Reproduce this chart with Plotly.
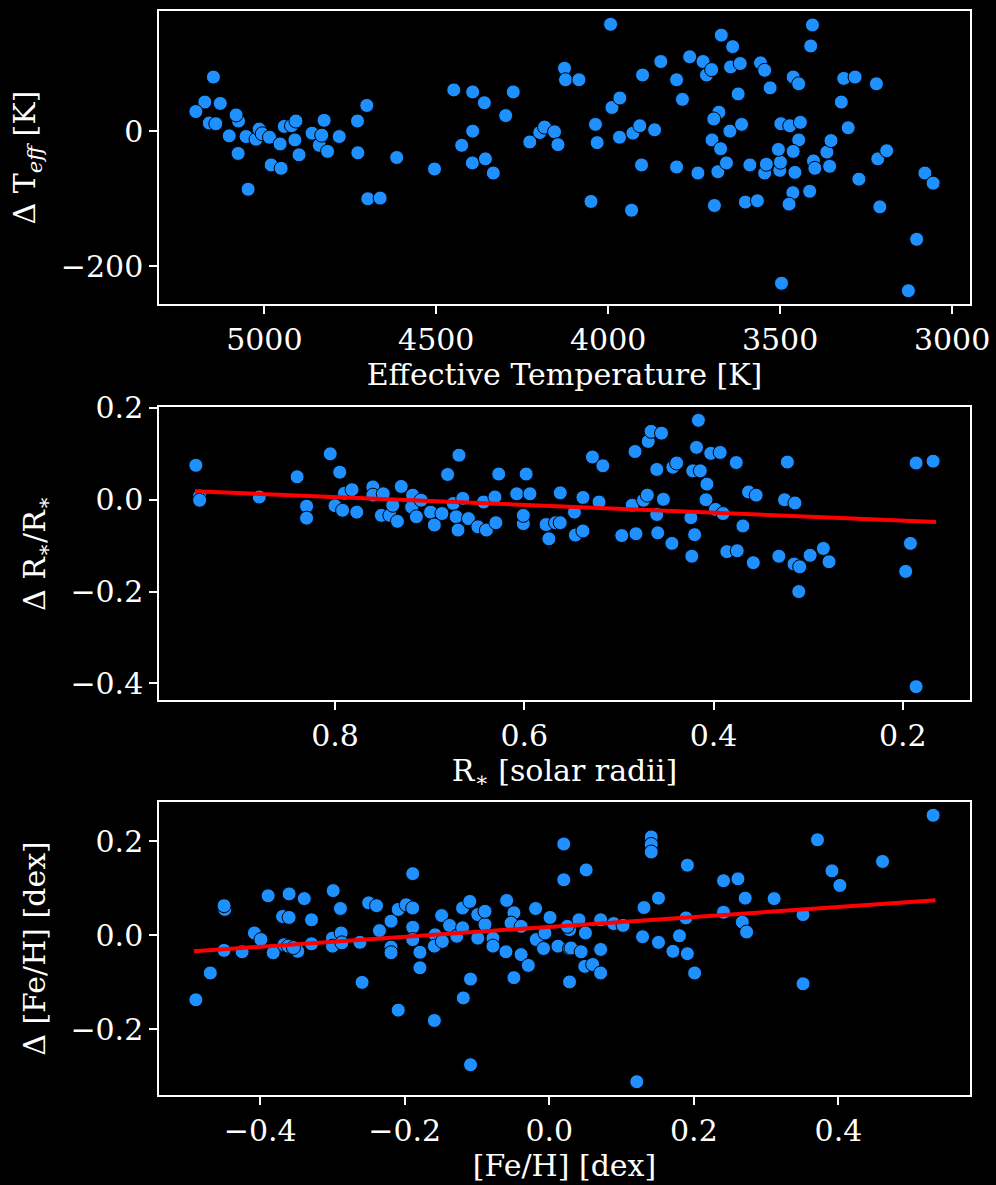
import plotly.graph_objects as go
from plotly.subplots import make_subplots

# ---------------- Panel 1: Effective temperature ----------------
teff = [5148, 5173, 5128, 5199, 5160, 5141, 5075, 5082, 5102, 5076, 5053, 5024, 5015, 5006, 4985,
        5047, 4980, 4951, 4954, 4942, 4921, 4908, 4911, 4899, 4861, 4840, 4833, 4826, 4816, 4782,
        4728, 4729, 4702, 4699, 4663, 4615, 4505, 4449, 4394, 4360, 4394, 4426, 4395, 4357, 4334,
        4298, 4276, 4228, 4199, 4185, 4156, 4146, 4127, 4124, 4085, 3993, 4037, 4032, 4050, 3932,
        3989, 3966, 3967, 3928, 3908, 3865, 3903, 3900, 3847, 3801, 3784, 3801, 3739, 3763, 3724,
        3714, 3699, 3671, 3638, 3644, 3616, 3622, 3678, 3693, 3698, 3673, 3646, 3612, 3681, 3656,
        3691, 3601, 3566, 3588, 3557, 3545, 3529, 3545, 3540, 3501, 3499, 3498, 3472, 3441, 3446,
        3505, 3462, 3457, 3463, 3474, 3414, 3462, 3446, 3411, 3406, 3403, 3399, 3356, 3364, 3352,
        3322, 3315, 3282, 3302, 3220, 3216, 3190, 3271, 3210, 3079, 3055, 3103, 3496, 3127]
d_teff = [80, 43, 41, 29, 12, 11, 15, 24, -7, -33, -8, -12, 3, -4, -9,
          -86, -50, -55, -19, 7, 8, 15, -13, -35, -3, -21, -6, 16, -30, -8,
          -32, 15, 38, -100, -99, -39, -56, 61, 58, 42, 0, -21, -47, -41, -62,
          23, 58, -16, -2, 6, -1, -20, 93, 76, 76, 158, 10, -17, -104, -117,
          35, 49, -9, -3, 8, 2, -50, 83, 103, 76, 47, -53, -62, 110, 103,
          83, 91, 142, 125, 95, 100, 55, 28, 18, -13, -26, 0, 10, -60, -47,
          -110, -105, -103, -50, 101, 90, 64, -62, -49, -58, -46, 11, 8, 13, -13,
          -27, -30, -61, -91, -108, -89, 80, 70, 126, 157, -44, -55, -52, -31, -14,
          43, 78, 80, 5, 70, -41, -29, -71, -112, -62, -77, -160, -225, -236]

# ---------------- Panel 2: Stellar radius ----------------
radius = [0.947, 0.943, 0.943, 0.880, 0.840, 0.830, 0.830, 0.805, 0.795, 0.800, 0.790, 0.782, 0.777,
          0.792, 0.760, 0.760, 0.749, 0.730, 0.751, 0.742, 0.739, 0.734, 0.718, 0.719, 0.714, 0.709,
          0.699, 0.695, 0.687, 0.681, 0.669, 0.675, 0.672, 0.670, 0.665, 0.659, 0.649, 0.640, 0.643,
          0.630, 0.631, 0.627, 0.608, 0.601, 0.601, 0.598, 0.594, 0.577, 0.567, 0.574, 0.562,
          0.562, 0.547, 0.546, 0.538, 0.538, 0.521, 0.528, 0.517, 0.497, 0.482, 0.486, 0.474, 0.470,
          0.483, 0.469, 0.466, 0.455, 0.460, 0.453, 0.460, 0.459, 0.444, 0.443, 0.439, 0.423, 0.424,
          0.420, 0.422, 0.414, 0.407, 0.418, 0.416, 0.403, 0.393, 0.408, 0.398, 0.390, 0.386, 0.375,
          0.376, 0.369, 0.363, 0.355, 0.358, 0.331, 0.325, 0.314, 0.322, 0.315, 0.309, 0.310, 0.298,
          0.284, 0.278, 0.192, 0.197, 0.186, 0.168, 0.186]
d_radius = [0.075, 0.008, -0.001, 0.006, 0.050, -0.014, -0.040, 0.100, 0.060, -0.013, 0.014, 0.022, -0.027,
            -0.023, 0.028, 0.010, 0.013, 0.029, -0.034, -0.034, -0.012, -0.047, 0.010, -0.016, -0.037, -0.001,
            -0.027, -0.055, -0.030, 0.055, 0.097, -0.008, -0.037, -0.066, 0.003, -0.041, -0.059, -0.066, -0.005,
            -0.050, 0.006, 0.056, 0.013, -0.052, -0.034, 0.056, 0.013, -0.054, -0.050, -0.085, 0.015,
            -0.050, -0.027, -0.077, -0.068, 0.005, -0.005, 0.093, 0.074, -0.078, -0.074, -0.012, -0.001, 0.010,
            0.105, 0.127, 0.149, 0.145, 0.066, 0.001, -0.032, -0.072, -0.095, 0.071, 0.080, -0.123, -0.039,
            -0.076, 0.063, 0.063, 0.034, 0.114, 0.173, 0.101, 0.103, 0.000, -0.021, -0.030, -0.113, -0.111,
            0.081, -0.057, 0.017, 0.010, -0.137, -0.123, 0.000, -0.007, 0.082, -0.140, -0.146, -0.200, -0.121,
            -0.106, -0.135, -0.095, -0.156, 0.080, 0.084, -0.407]
fit_radius_x = [0.948, 0.165]
fit_radius_y = [0.0185, -0.0483]

# ---------------- Panel 3: Metallicity ----------------
feh = [-0.489, -0.469, -0.449, -0.450, -0.450, -0.425, -0.408, -0.399, -0.389, -0.382, -0.369, -0.360,
       -0.360, -0.339, -0.329, -0.367, -0.361, -0.348, -0.354, -0.329, -0.299, -0.289, -0.300, -0.288,
       -0.300, -0.287, -0.262, -0.259, -0.250, -0.239, -0.235, -0.219, -0.209, -0.198, -0.189, -0.189,
       -0.189, -0.189, -0.219, -0.219, -0.179, -0.179, -0.209, -0.159, -0.158, -0.159, -0.149, -0.148,
       -0.138, -0.128, -0.120, -0.110, -0.120, -0.099, -0.089, -0.089, -0.099, -0.078, -0.078, -0.109,
       -0.119, -0.109, -0.059, -0.049, -0.053, -0.039, -0.060, -0.039, -0.049, -0.029, -0.019, 0.001,
       -0.018, -0.008, -0.006, 0.012, 0.020, 0.020, 0.028, 0.028, 0.028,
       0.051, 0.025, 0.041, 0.050, 0.030, 0.044, 0.049, 0.060, 0.071, 0.071, 0.071, 0.089, 0.102,
       0.131, 0.151, 0.129, 0.151, 0.141, 0.141, 0.141, 0.121, 0.171, 0.180, 0.191, 0.201, 0.189,
       0.191, 0.241, 0.261, 0.271, 0.241, 0.267, 0.273, 0.311, 0.351, 0.351, 0.371, 0.391, 0.402,
       0.461, 0.531]
d_feh = [-0.137, -0.080, 0.055, 0.063, -0.032, -0.035, 0.005, -0.009, 0.084, -0.037, 0.040, 0.088,
         0.038, 0.078, 0.033, -0.020, -0.023, -0.034, -0.026, -0.018, 0.095, 0.057, -0.006, 0.005,
         -0.023, -0.016, -0.015, -0.100, 0.069, 0.063, 0.010, 0.030, 0.055, 0.065, 0.058, 0.131,
         0.017, -0.009, -0.025, -0.037, -0.036, -0.069, -0.159, -0.181, 0.001, -0.023, 0.042, -0.013,
         0.021, -0.002, 0.058, 0.072, 0.016, 0.044, 0.023, 0.051, -0.006, -0.006, -0.023, -0.093,
         -0.133, -0.275, 0.074, 0.048, 0.026, 0.019, -0.035, -0.041, -0.090, -0.064, 0.057, 0.038,
         -0.009, -0.028, 0.005, -0.023, 0.194, 0.118, 0.012, -0.028, -0.099,
         0.139, 0.019, 0.033, 0.005, -0.027, -0.035, -0.066, -0.062, -0.080, -0.030, 0.033, 0.025, 0.021,
         0.059, 0.079, -0.003, -0.015, 0.209, 0.193, 0.177, -0.311, -0.034, -0.001, -0.039, -0.080, 0.037,
         0.149, 0.116, 0.120, 0.079, 0.049, 0.028, 0.007, 0.078, 0.044, -0.103, 0.203, 0.137, 0.106,
         0.157, 0.255]
fit_feh_x = [-0.4916, 0.5343]
fit_feh_y = [-0.034, 0.0743]

# ---------------- Styling ----------------
FONT = "DejaVu Serif"
FS = 30
POINT = "#1E90FF"


def padded(vals, frac=0.05):
    lo, hi = min(vals), max(vals)
    span = hi - lo
    return [lo - frac * span, hi + frac * span]


fig = make_subplots(rows=3, cols=1)

marker = dict(color=POINT, size=14, line=dict(color="black", width=1))

fig.add_trace(go.Scatter(x=teff, y=d_teff, mode="markers", marker=marker, showlegend=False), row=1, col=1)

fig.add_trace(go.Scatter(x=radius, y=d_radius, mode="markers", marker=marker, showlegend=False), row=2, col=1)
fig.add_trace(go.Scatter(x=fit_radius_x, y=fit_radius_y, mode="lines",
                         line=dict(color="red", width=4), showlegend=False), row=2, col=1)

fig.add_trace(go.Scatter(x=feh, y=d_feh, mode="markers", marker=marker, showlegend=False), row=3, col=1)
fig.add_trace(go.Scatter(x=fit_feh_x, y=fit_feh_y, mode="lines",
                         line=dict(color="red", width=4), showlegend=False), row=3, col=1)

axis_common = dict(
    showline=True, mirror=True, linecolor="white", linewidth=1.5,
    ticks="outside", ticklen=8, tickwidth=1.5, tickcolor="white",
    showgrid=False, zeroline=False, automargin=False,
    tickfont=dict(family=FONT, size=FS, color="white"),
    title_font=dict(family=FONT, size=FS, color="white"),
)
fig.update_xaxes(**axis_common)
fig.update_yaxes(**axis_common)

r1 = padded(teff)
r2 = padded(radius)
r3 = padded(feh)

fig.update_xaxes(range=[r1[1], r1[0]], tickvals=[5000, 4500, 4000, 3500, 3000],
                 title=dict(text="Effective Temperature [K]", standoff=8), row=1, col=1)
fig.update_yaxes(range=padded(d_teff), tickvals=[-200, 0],
                 title=dict(text="Δ T<sub><i>eff</i></sub> [K]", standoff=16), row=1, col=1)

fig.update_xaxes(range=[r2[1], r2[0]], tickvals=[0.8, 0.6, 0.4, 0.2], tickformat=".1f",
                 title=dict(text="R<sub>∗</sub> [solar radii]", standoff=8), row=2, col=1)
fig.update_yaxes(range=padded(d_radius), tickvals=[-0.4, -0.2, 0.0, 0.2], tickformat=".1f",
                 title=dict(text="Δ R<sub>∗</sub>/R<sub>∗</sub>", standoff=16), row=2, col=1)

fig.update_xaxes(range=r3, tickvals=[-0.4, -0.2, 0.0, 0.2, 0.4], tickformat=".1f",
                 title=dict(text="[Fe/H] [dex]", standoff=8), row=3, col=1)
fig.update_yaxes(range=padded(d_feh), tickvals=[-0.2, 0.0, 0.2], tickformat=".1f",
                 title=dict(text="Δ [Fe/H] [dex]", standoff=16), row=3, col=1)

fig.update_layout(
    width=996, height=1185,
    paper_bgcolor="black", plot_bgcolor="black",
    margin=dict(l=159, r=26, t=11, b=90, autoexpand=False),
    font=dict(family=FONT, size=FS, color="white"),
    xaxis=dict(domain=[0, 1]), xaxis2=dict(domain=[0, 1]), xaxis3=dict(domain=[0, 1]),
    yaxis=dict(domain=[0.7297, 1.0]),
    yaxis2=dict(domain=[0.3644, 0.6347]),
    yaxis3=dict(domain=[0.0, 0.2703]),
)

fig.write_html("out.html",
               config={"displayModeBar": False},
               post_script="document.body.style.margin='0';document.body.style.background='black';")
